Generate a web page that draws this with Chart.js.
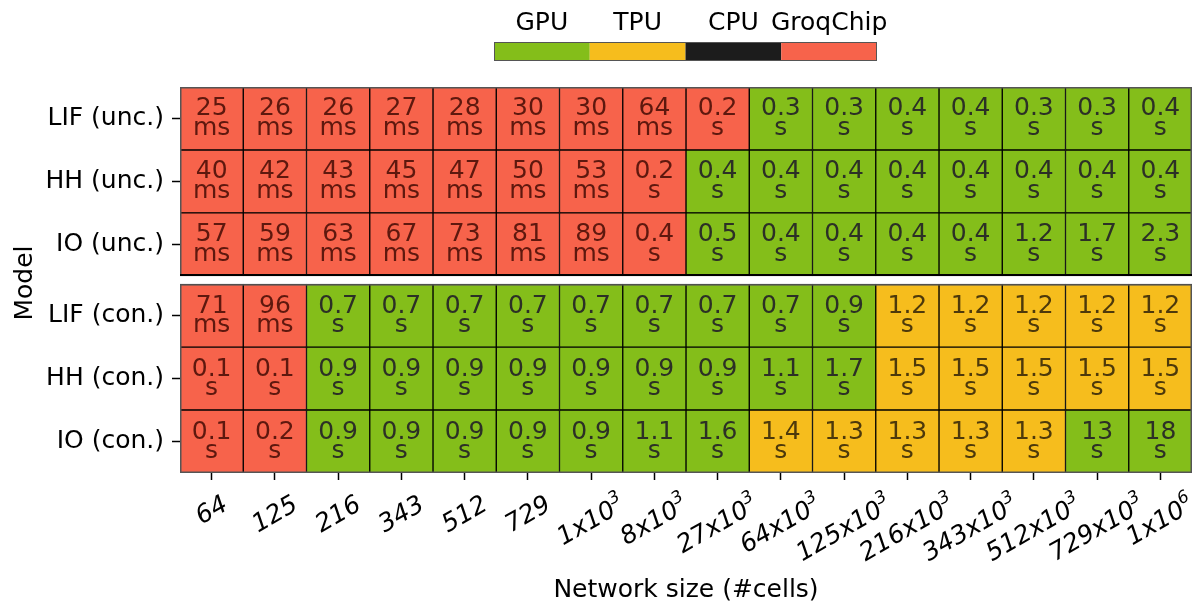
<!DOCTYPE html>
<html>
<head>
<meta charset="utf-8">
<script src="https://cdn.jsdelivr.net/npm/chart.js@4.4.1/dist/chart.umd.min.js"></script>
<style>
  html, body { margin: 0; padding: 0; background: #fff; }
  #wrap { width: 1198px; height: 604px; }
</style>
</head>
<body>
<div id="wrap"><canvas id="heatmap" width="1198" height="604"></canvas></div>
<script>
const plotFont = "'DejaVu Sans', sans-serif";

const models = ["LIF (unc.)", "HH (unc.)", "IO (unc.)", "LIF (con.)", "HH (con.)", "IO (con.)"];
const sizeBase = ["64", "125", "216", "343", "512", "729", "1x10", "8x10", "27x10", "64x10",
  "125x10", "216x10", "343x10", "512x10", "729x10", "1x10"];
const sizeExp = ["", "", "", "", "", "", "3", "3", "3", "3", "3", "3", "3", "3", "3", "6"];

const platforms = ["GPU", "TPU", "CPU", "GroqChip"];
const platformColors = ["#84be1a", "#f6bd1d", "#1c1c1c", "#f7634b"];
const platformTextColors = ["#2c3026", "#4d390b", "#dddddd", "#5e180e"];

// run time in ms per network size, and the fastest platform (G=GPU, T=TPU, C=CPU, Q=GroqChip)
const lifUncTimes = [25, 26, 26, 27, 28, 30, 30, 64, 200, 300, 300, 400, 400, 300, 300, 400];
const lifUncBest = "QQQQQQQQQGGGGGGG";
const hhUncTimes = [40, 42, 43, 45, 47, 50, 53, 200, 400, 400, 400, 400, 400, 400, 400, 400];
const hhUncBest = "QQQQQQQQGGGGGGGG";
const ioUncTimes = [57, 59, 63, 67, 73, 81, 89, 400, 500, 400, 400, 400, 400, 1200, 1700, 2300];
const ioUncBest = "QQQQQQQQGGGGGGGG";
const lifConTimes = [71, 96, 700, 700, 700, 700, 700, 700, 700, 700, 900, 1200, 1200, 1200, 1200, 1200];
const lifConBest = "QQGGGGGGGGGTTTTT";
const hhConTimes = [100, 100, 900, 900, 900, 900, 900, 900, 900, 1100, 1700, 1500, 1500, 1500, 1500, 1500];
const hhConBest = "QQGGGGGGGGGTTTTT";
const ioConTimes = [100, 200, 900, 900, 900, 900, 900, 1100, 1600, 1400, 1300, 1300, 1300, 1300, 13000, 18000];
const ioConBest = "QQGGGGGGGTTTTTGG";

const rows = [
  { times: lifUncTimes, best: lifUncBest },
  { times: hhUncTimes, best: hhUncBest },
  { times: ioUncTimes, best: ioUncBest },
  { times: lifConTimes, best: lifConBest },
  { times: hhConTimes, best: hhConBest },
  { times: ioConTimes, best: ioConBest },
];
const codeIndex = { G: 0, T: 1, C: 2, Q: 3 };

// small gap between uncoupled and connected blocks
const blockGap = 0.13;
const rowPos = models.map((m, i) => i + 0.5 + (i >= 3 ? blockGap : 0));

function formatTime(ms) {
  if (ms < 100) return [String(ms), "ms"];
  const s = ms / 1000;
  return [s < 10 ? s.toFixed(1) : String(Math.round(s)), "s"];
}

const datasets = sizeBase.map((b, j) => ({
  label: b + (sizeExp[j] ? "^" + sizeExp[j] : ""),
  data: rows.map((r, i) => ({ x: [j, j + 1], y: rowPos[i] })),
  backgroundColor: rows.map((r) => platformColors[codeIndex[r.best[j]]]),
  borderColor: "#000",
  borderWidth: 1,
  borderSkipped: false,
  grouped: false,
  barPercentage: 1,
  categoryPercentage: 1,
}));

const heatmapDecor = {
  id: "heatmapDecor",
  afterDatasetsDraw(chart) {
    const ctx = chart.ctx;
    const { left, right } = chart.chartArea;
    const yScale = chart.scales.y;
    ctx.save();
    // values inside the cells
    ctx.font = `25px ${plotFont}`;
    ctx.textAlign = "center";
    ctx.textBaseline = "alphabetic";
    chart.data.datasets.forEach((ds, j) => {
      chart.getDatasetMeta(j).data.forEach((bar, i) => {
        const [num, unit] = formatTime(rows[i].times[j]);
        const cx = (bar.x + bar.base) / 2;
        ctx.fillStyle = platformTextColors[codeIndex[rows[i].best[j]]];
        ctx.fillText(num, cx, bar.y - 3);
        ctx.fillText(unit, cx, bar.y + 16.5);
      });
    });
    // block frames
    ctx.strokeStyle = "#555";
    ctx.lineWidth = 1.5;
    [[0, 3], [3 + blockGap, 6 + blockGap]].forEach(([a, b]) => {
      const t = yScale.getPixelForValue(a);
      const bt = yScale.getPixelForValue(b);
      ctx.strokeRect(left + 0.75, t + 0.75, right - left - 1.5, bt - t - 1.5);
    });
    const sep = yScale.getPixelForValue(3);
    ctx.strokeStyle = "#000";
    ctx.lineWidth = 2;
    ctx.beginPath();
    ctx.moveTo(left, sep - 1);
    ctx.lineTo(right, sep - 1);
    ctx.stroke();
    ctx.restore();
  },
  afterDraw(chart) {
    const ctx = chart.ctx;
    const xScale = chart.scales.x;
    const { left, right, top, bottom } = chart.chartArea;
    ctx.save();
    ctx.fillStyle = "#000";

    // rotated network size labels
    const ang = Math.PI / 6;
    const labelTop = bottom + 19;
    sizeBase.forEach((b, j) => {
      ctx.font = `italic 25px ${plotFont}`;
      const wb = ctx.measureText(b).width;
      ctx.font = `italic 17px ${plotFont}`;
      const ws = sizeExp[j] ? ctx.measureText(sizeExp[j]).width : 0;
      const w = wb + ws;
      const h = 24;
      const bh = w * Math.sin(ang) + h * Math.cos(ang);
      ctx.save();
      ctx.translate(xScale.getPixelForValue(j + 0.5), labelTop + bh / 2);
      ctx.rotate(-ang);
      ctx.textAlign = "left";
      ctx.textBaseline = "middle";
      ctx.font = `italic 25px ${plotFont}`;
      ctx.fillText(b, -w / 2, 1);
      if (sizeExp[j]) {
        ctx.font = `italic 17px ${plotFont}`;
        ctx.fillText(sizeExp[j], -w / 2 + wb, -8);
      }
      ctx.restore();
    });

    // axis titles
    ctx.font = `25px ${plotFont}`;
    ctx.textAlign = "center";
    ctx.textBaseline = "alphabetic";
    ctx.fillText("Network size (#cells)", (left + right) / 2, 597);
    ctx.save();
    ctx.translate(32, (top + bottom) / 2 + 3);
    ctx.rotate(-Math.PI / 2);
    ctx.fillText("Model", 0, 0);
    ctx.restore();

    // platform colour bar
    const barLeft = 494, barRight = 877, barTop = 42, barBottom = 61;
    const segW = (barRight - barLeft) / platforms.length;
    platforms.forEach((p, k) => {
      ctx.fillStyle = platformColors[k];
      ctx.fillRect(barLeft + k * segW, barTop, segW, barBottom - barTop);
      ctx.fillStyle = "#000";
      ctx.fillText(p, barLeft + (k + 0.5) * segW, 30);
    });
    ctx.strokeStyle = "#555";
    ctx.lineWidth = 1;
    ctx.strokeRect(barLeft + 0.5, barTop + 0.5, barRight - barLeft - 1, barBottom - barTop - 1);
    ctx.restore();
  },
};

new Chart(document.getElementById("heatmap"), {
  type: "bar",
  data: { datasets: datasets },
  options: {
    responsive: false,
    animation: false,
    indexAxis: "y",
    layout: { padding: { top: 87, right: 6, left: 0, bottom: 0 } },
    plugins: {
      legend: { display: false },
      tooltip: { enabled: false },
    },
    scales: {
      x: {
        type: "linear",
        offset: false,
        min: 0,
        max: sizeBase.length,
        afterBuildTicks: (scale) => {
          scale.ticks = sizeBase.map((b, j) => ({ value: j + 0.5 }));
        },
        afterFit: (scale) => {
          scale.height = 131;
        },
        ticks: { display: false },
        grid: { offset: false, drawOnChartArea: false, drawTicks: true, tickLength: 7, tickWidth: 1.5, tickColor: "#000" },
        border: { display: false },
      },
      y: {
        type: "linear",
        offset: false,
        reverse: true,
        min: 0,
        max: models.length + blockGap,
        afterBuildTicks: (scale) => {
          scale.ticks = rowPos.map((v) => ({ value: v }));
        },
        afterFit: (scale) => {
          scale.width = 180;
        },
        ticks: {
          autoSkip: false,
          padding: 8,
          color: "#000",
          font: { family: plotFont, size: 25 },
          callback: (value, i) => models[i],
        },
        grid: { offset: false, drawOnChartArea: false, drawTicks: true, tickLength: 8, tickWidth: 1.5, tickColor: "#000" },
        border: { display: false },
      },
    },
  },
  plugins: [heatmapDecor],
});
</script>
</body>
</html>
